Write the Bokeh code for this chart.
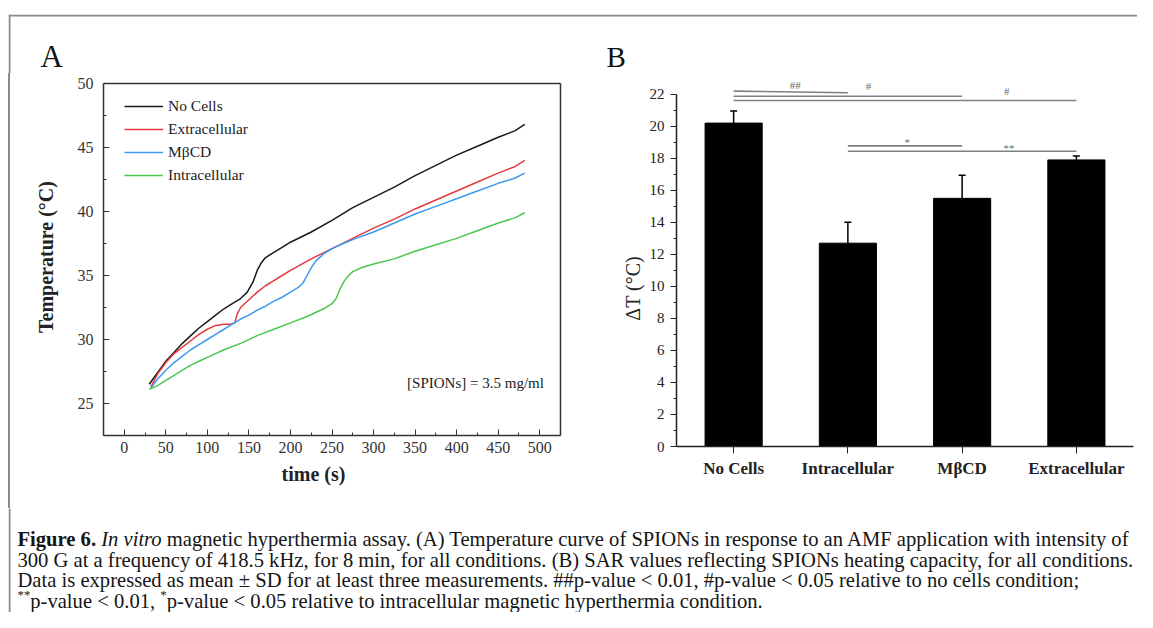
import os
import glob
import subprocess
from bokeh.plotting import figure
from bokeh.layouts import column, row
from bokeh.models import (Range1d, FixedTicker, Legend, LegendItem, Label, Title, Spacer, Div,
                          Whisker, TeeHead, ColumnDataSource)
from bokeh.core.properties import value
from bokeh.embed import file_html
from bokeh.resources import INLINE

SERIF = "Liberation Serif"

# ---------------- Panel A data: temperature curves ----------------
nocells_time = [30, 40, 50, 60, 70, 80, 90, 100, 110, 120, 130, 140, 148, 155, 160, 165,
                170, 180, 190, 200, 225, 250, 275, 300, 325, 350, 375, 400, 425, 450, 470, 482]
nocells_temp = [26.5, 27.4, 28.3, 29.0, 29.7, 30.3, 30.9, 31.4, 31.9, 32.4, 32.8, 33.2, 33.7,
                34.5, 35.4, 36.0, 36.4, 36.8, 37.2, 37.6, 38.4, 39.3, 40.3, 41.1, 41.9, 42.8,
                43.6, 44.4, 45.1, 45.8, 46.3, 46.8]

extra_time = [32, 40, 50, 60, 70, 80, 90, 100, 110, 120, 128, 133, 136, 140, 150, 160, 170,
              180, 190, 200, 225, 250, 275, 300, 325, 350, 375, 400, 425, 450, 470, 482]
extra_temp = [26.3, 27.3, 28.2, 28.9, 29.4, 29.9, 30.4, 30.8, 31.1, 31.2, 31.2, 31.3, 32.0,
              32.5, 33.1, 33.7, 34.2, 34.6, 35.0, 35.4, 36.3, 37.1, 37.9, 38.7, 39.4, 40.2,
              40.9, 41.6, 42.3, 43.0, 43.5, 44.0]

mbcd_time = [32, 40, 50, 60, 70, 80, 90, 100, 110, 120, 130, 140, 150, 160, 170, 180, 190,
             200, 210, 215, 220, 225, 230, 235, 240, 250, 260, 275, 300, 325, 350, 375, 400,
             425, 450, 470, 482]
mbcd_temp = [26.2, 26.9, 27.6, 28.2, 28.7, 29.2, 29.6, 30.0, 30.4, 30.8, 31.2, 31.6, 31.9,
             32.3, 32.6, 33.0, 33.3, 33.7, 34.1, 34.4, 35.0, 35.6, 36.1, 36.4, 36.7, 37.1,
             37.4, 37.8, 38.4, 39.1, 39.8, 40.4, 41.0, 41.6, 42.2, 42.6, 43.0]

intra_time = [30, 40, 50, 60, 70, 80, 90, 100, 120, 140, 160, 180, 200, 220, 240, 250, 255,
              260, 265, 270, 275, 285, 300, 325, 350, 375, 400, 425, 450, 460, 470, 482]
intra_temp = [26.1, 26.4, 26.8, 27.2, 27.6, 28.0, 28.3, 28.6, 29.2, 29.7, 30.3, 30.8, 31.3,
              31.8, 32.4, 32.8, 33.2, 34.0, 34.6, 35.0, 35.3, 35.6, 35.9, 36.3, 36.9, 37.4,
              37.9, 38.5, 39.1, 39.3, 39.5, 39.9]

series_names = ["No Cells", "Extracellular", "M\u03b2CD", "Intracellular"]
series_colors = ["#1a1a1a", "#e5393b", "#3b9af0", "#4cc64c"]
x_ticks_A = [0, 50, 100, 150, 200, 250, 300, 350, 400, 450, 500]
y_ticks_A = [25, 30, 35, 40, 45, 50]
x_limits_A = (-25, 525)
y_limits_A = (22.5, 50)

# ---------------- Panel B data: delta T bars ----------------
categories = ["No Cells", "Intracellular", "M\u03b2CD", "Extracellular"]
delta_t = [20.2, 12.7, 15.5, 17.9]
delta_sd = [0.75, 1.3, 1.45, 0.25]
y_ticks_B = [0, 2, 4, 6, 8, 10, 12, 14, 16, 18, 20, 22]

# significance brackets (category numbers 1..4)
sig_from = [1, 1, 1, 2, 2]
sig_to = [2, 3, 4, 3, 4]
sig_y0 = [22.2, 21.88, 21.61, 18.78, 18.44]
sig_y1 = [22.1, 21.88, 21.61, 18.78, 18.44]
sig_text = ["##", "#", "#", "*", "**"]
sig_tx = [1.54, 2.18, 3.39, 2.52, 3.41]
sig_ty = [22.6, 22.5, 22.2, 19.0, 18.65]

# ---------------- font measuring for caption ----------------
_font_cache = {}
_patterns = {"normal": ("Liberation Serif:style=Regular", "LiberationSerif-Regular.ttf"),
             "bold": ("Liberation Serif:style=Bold", "LiberationSerif-Bold.ttf"),
             "italic": ("Liberation Serif:style=Italic", "LiberationSerif-Italic.ttf")}


def _find_file(style):
    pat, fname = _patterns[style]
    try:
        out = subprocess.run(["fc-match", "-f", "%{file}", pat], capture_output=True,
                             text=True, timeout=5).stdout.strip()
        if out and os.path.exists(out) and "Liberation" in out:
            return out
    except Exception:
        pass
    for d in ["/usr/share/fonts", "/usr/local/share/fonts", os.path.expanduser("~/.fonts"),
              os.path.expanduser("~/.local/share/fonts"), "/usr/share", "/usr/local", "/opt"]:
        try:
            hits = glob.glob(os.path.join(d, "**", fname), recursive=True)
        except Exception:
            hits = []
        if hits:
            return hits[0]
    return None


def _font(style):
    if style in _font_cache:
        return _font_cache[style]
    f = None
    try:
        from PIL import ImageFont
        path = _find_file(style)
        if path:
            f = ImageFont.truetype(path, size=100)
    except Exception:
        f = None
    _font_cache[style] = f
    return f


def measure(text, style, size):
    f = _font(style)
    if f is not None:
        try:
            return f.getlength(text) * size / 100.0
        except Exception:
            pass
    return len(text) * size * 0.45


MID = 0.3375   # distance from alphabetic baseline to the middle of the em box, in em

# ---------------- layout constants (picture px) ----------------
OX = 8               # left edge of the boxed figure (border line)
OY = 14              # top edge of the boxed figure (border line)
TOTAL_W = 1137
FULL_W = TOTAL_W - OX          # strip and caption widths (include the border column)
LEFT = OX + 2                  # panels start right of the 2px border
ROW_TOP = 73
STRIP_H = ROW_TOP - OY
FRAME_TOP = 78
A_BOTTOM = 435
B_BOTTOM = 446
BB = 62
A_W = 578
B_W = TOTAL_W - LEFT - A_W
HB = B_BOTTOM - ROW_TOP + BB
HA = A_BOTTOM - ROW_TOP + BB
CAP_TOP = ROW_TOP + HB
CAP_H = 612 - CAP_TOP
BORDER = "#8a8a8a"


def blank(width, height):
    p = figure(width=width, height=height, x_range=Range1d(0, width),
               y_range=Range1d(height, 0), output_backend="svg", toolbar_location=None,
               min_border=0, outline_line_color=None)
    p.axis.visible = False
    p.grid.visible = False
    return p


# ---------------- top strip: border lines + panel letters ----------------
top = blank(FULL_W, STRIP_H)
top.quad(left=[0, 0], right=[FULL_W, 2], top=[0, 0], bottom=[2, STRIP_H],
         fill_color=BORDER, line_color=None)
top.text(x=[40 - OX], y=[66 - MID * 31 - OY], text=["A"], text_font=value(SERIF),
         text_font_size="31px", text_baseline="middle", text_color="#111")
top.text(x=[606 - OX], y=[66.5 - MID * 29 - OY], text=["B"], text_font=value(SERIF),
         text_font_size="29px", text_baseline="middle", text_color="#111")

# ---------------- left border piece for the panel row ----------------
lbm = Div(text="", width=LEFT - OX, height=HB, margin=0,
          styles={"background-color": BORDER})

# ---------------- Panel A ----------------
A_FRAME_L, A_FRAME_R = 103, 560          # picture px of x_limits_A
a_right_border = 26
a_xscale = (A_FRAME_R - A_FRAME_L) / (x_limits_A[1] - x_limits_A[0])
a_yscale = (A_BOTTOM - 83.0) / (y_limits_A[1] - y_limits_A[0])
x_end_A = x_limits_A[1] + (LEFT + A_W - a_right_border - A_FRAME_R) / a_xscale
y_end_A = y_limits_A[0] + (A_BOTTOM - FRAME_TOP) / a_yscale

pA = figure(width=A_W, height=HA, x_range=Range1d(x_limits_A[0], x_end_A),
            y_range=Range1d(y_limits_A[0], y_end_A),
            output_backend="svg", toolbar_location=None,
            min_border_left=A_FRAME_L - LEFT, min_border_right=a_right_border,
            min_border_top=FRAME_TOP - ROW_TOP, min_border_bottom=BB, outline_line_color=None)
pA.grid.visible = False
pA.xaxis.ticker = FixedTicker(ticks=x_ticks_A, minor_ticks=[t + 25 for t in x_ticks_A])
pA.yaxis.ticker = FixedTicker(ticks=y_ticks_A, minor_ticks=[t - 2.5 for t in y_ticks_A])
pA.xaxis.bounds = x_limits_A
pA.yaxis.bounds = y_limits_A
pA.yaxis.axis_label = "Temperature (\u00b0C)"
for ax in (pA.xaxis[0], pA.yaxis[0]):
    ax.axis_line_color = "#333333"
    ax.axis_line_width = 1.5
    ax.major_tick_in = 6
    ax.major_tick_out = 0
    ax.minor_tick_in = 3
    ax.minor_tick_out = 0
    ax.major_tick_line_color = "#333333"
    ax.minor_tick_line_color = "#333333"
    ax.major_label_text_font = SERIF
    ax.major_label_text_font_size = "16px"
    ax.major_label_text_color = "#333333"
    ax.axis_label_text_font = SERIF
    ax.axis_label_text_font_style = "bold"
    ax.axis_label_text_font_size = "20px"
    ax.axis_label_text_color = "#222222"
pA.xaxis.major_label_standoff = 6
pA.yaxis.major_label_standoff = 10
pA.yaxis.axis_label_standoff = 18
t_w = measure("time (s)", "bold", 20)
pA.add_layout(Title(text="time (s)", align="left", offset=313 - t_w / 2.0 - A_FRAME_L,
                    text_font=SERIF, text_font_style="bold", text_font_size="20px",
                    text_color="#222222", standoff=11), "below")
# closing edges of the panel box (top and right)
pA.segment(x0=[x_limits_A[0], x_limits_A[1]], y0=[y_limits_A[1], y_limits_A[0]],
           x1=[x_limits_A[1], x_limits_A[1]], y1=[y_limits_A[1], y_limits_A[1]],
           line_color="#333333", line_width=1.5)

renderers = []
for t, y, c in zip([nocells_time, extra_time, mbcd_time, intra_time],
                   [nocells_temp, extra_temp, mbcd_temp, intra_temp], series_colors):
    renderers.append(pA.line(t, y, line_color=c, line_width=1.5))

legend = Legend(items=[LegendItem(label=n, renderers=[r]) for n, r in zip(series_names, renderers)],
                location=(21, 250), margin=0, padding=0, spacing=3,
                label_height=20, glyph_height=20, glyph_width=39, label_standoff=5,
                border_line_color=None, background_fill_alpha=0,
                label_text_font=SERIF, label_text_font_size="15.5px", label_text_color="#222222")
pA.add_layout(legend)
pA.add_layout(Label(x=505, y=26.6, text="[SPIONs] = 3.5 mg/ml", text_align="right",
                    text_baseline="middle", text_font=SERIF, text_font_size="15px",
                    text_color="#222222"))

# ---------------- Panel B ----------------
xs = [i + 1 for i in range(len(categories))]
b_yscale = 16.01
B_FRAME_L = 676
b_right_border = TOTAL_W - 1133
pB = figure(width=B_W, height=HB, x_range=Range1d(0.5, 4.5),
            y_range=Range1d(0, (B_BOTTOM - FRAME_TOP) / b_yscale),
            output_backend="svg", toolbar_location=None,
            min_border_left=B_FRAME_L - (LEFT + A_W), min_border_right=b_right_border,
            min_border_top=FRAME_TOP - ROW_TOP, min_border_bottom=BB, outline_line_color=None)
pB.grid.visible = False
pB.vbar(x=xs, top=delta_t, width=0.5, fill_color="black", line_color="black")
src = ColumnDataSource(dict(x=xs, top=delta_t, upper=[v + s for v, s in zip(delta_t, delta_sd)]))
pB.add_layout(Whisker(source=src, base="x", lower="top", upper="upper", line_color="black",
                      line_width=1.5, lower_head=None,
                      upper_head=TeeHead(size=7, line_color="black", line_width=1.5)))
pB.segment(x0=sig_from, y0=sig_y0, x1=sig_to, y1=sig_y1, line_color="#808080", line_width=1.6)
pB.text(x=sig_tx, y=sig_ty, text=sig_text, text_font=value(SERIF), text_font_size="11px",
        text_align="center", text_baseline="middle", text_color="#6a6a6a")

pB.xaxis.ticker = FixedTicker(ticks=xs, minor_ticks=[])
pB.xaxis.major_label_overrides = {x: c for x, c in zip(xs, categories)}
pB.yaxis.ticker = FixedTicker(ticks=y_ticks_B, minor_ticks=[t + 1 for t in y_ticks_B[:-1]])
pB.yaxis.bounds = (0, 22)
for ax in (pB.xaxis[0], pB.yaxis[0]):
    ax.axis_line_color = "#222222"
    ax.axis_line_width = 1.5
    ax.major_tick_line_color = "#222222"
    ax.minor_tick_line_color = "#222222"
    ax.major_tick_in = 0
    ax.minor_tick_in = 0
    ax.major_label_text_font = SERIF
    ax.major_label_text_color = "#222222"
pB.xaxis.major_tick_out = 7
pB.xaxis.major_label_text_font_size = "17px"
pB.xaxis.major_label_text_font_style = "bold"
pB.xaxis.major_label_standoff = 5
pB.yaxis.major_tick_out = 6
pB.yaxis.minor_tick_out = 3
pB.yaxis.major_label_text_font_size = "15px"
pB.yaxis.major_label_standoff = 6
d_w = measure("\u0394T (\u00b0C)", "normal", 20)
pB.add_layout(Title(text="\u0394T (\u00b0C)", align="left", offset=B_BOTTOM - (288 + d_w / 2.0),
                    text_font=SERIF, text_font_style="normal", text_font_size="20px",
                    text_color="#222222", standoff=6), "left")

# ---------------- caption ----------------
cap = blank(FULL_W, CAP_H)
cap.quad(left=[0], right=[2], top=[0], bottom=[CAP_H], fill_color=BORDER, line_color=None)

line1_rest = ("magnetic hyperthermia assay. (A) Temperature curve of SPIONs in response to an "
              "AMF application with intensity of")
line2 = ("300 G at a frequency of 418.5 kHz, for 8 min, for all conditions. (B) SAR values "
         "reflecting SPIONs heating capacity, for all conditions.")
line3 = ("Data is expressed as mean \u00b1 SD for at least three measurements. "
         "##p-value < 0.01, #p-value < 0.05 relative to no cells condition;")
line4a = "p-value < 0.01, "
line4b = "p-value < 0.05 relative to intracellular magnetic hyperthermia condition."

CAP_X = 17 - OX
if _font("normal") is not None:
    w1 = (measure("Figure 6. ", "bold", 100) + measure("In vitro ", "italic", 100)
          + measure(line1_rest, "normal", 100))
    w2 = measure(line2, "normal", 100)
    w3 = measure(line3, "normal", 100)
    fs = 100.0 * min((1134 - 17) / w1, (1133 - 17) / w2, (1106 - 17) / w3)
    fs = max(15.0, min(21.0, fs))
else:
    fs = 18.5
sup = fs * 0.62
rise = fs * 0.38

caption_lines = [
    [("Figure 6. ", "bold", fs, 0), ("In vitro ", "italic", fs, 0), (line1_rest, "normal", fs, 0)],
    [(line2, "normal", fs, 0)],
    [(line3, "normal", fs, 0)],
    [("**", "normal", sup, rise), (line4a, "normal", fs, 0), ("*", "normal", sup, rise),
     (line4b, "normal", fs, 0)],
]
baselines = [545.5, 566.0, 586.5, 607.0]
for segs, yb in zip(caption_lines, baselines):
    x = CAP_X
    for txt, style, size, dy in segs:
        cap.text(x=[x], y=[yb - dy - MID * size - CAP_TOP], text=[txt], text_font=value(SERIF),
                 text_font_style=style, text_font_size=f"{size:.2f}px",
                 text_baseline="middle", text_align="left", text_color="#151515")
        x += measure(txt, style, size)

body = column(top, row(lbm, pA, pB), cap)
layout = column(Spacer(height=OY, width=OX),
                row(Spacer(width=OX, height=10), body))
open("out.html", "w").write(file_html(layout, INLINE))
